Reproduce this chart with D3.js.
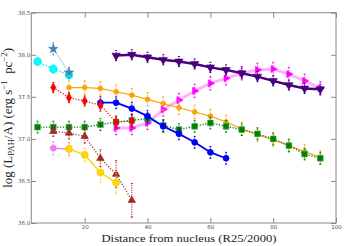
<!DOCTYPE html>
<html>
<head>
<meta charset="utf-8">
<script src="https://cdn.jsdelivr.net/npm/d3@7"></script>
<style>
  body { margin: 0; background: #fff; }
  svg { display: block; }
  .axis text { font-family: 'DejaVu Sans', sans-serif; font-size: 5.5px; fill: #555; }
  .axis path, .axis line { stroke: #888; }
  .title { font-family: 'Liberation Serif', serif; font-size: 11px; fill: #222; }
</style>
</head>
<body>
<svg id="chart" width="351" height="246"></svg>
<script>
'use strict'

// values
const xTicks = [20, 40, 60, 80, 100];
const yTicks = [36.0, 36.5, 37.0, 37.5, 38.0, 38.5];

const distStar = [10, 15];
const lumStar = [38.07, 37.79];
const errStar = [0.07, 0.06];

const distCyan = [5, 10, 15];
const lumCyan = [37.92, 37.83, 37.76];
const errCyan = [0.05, 0.05, 0.05];

const distRed = [10, 15, 20, 25, 30, 35];
const lumRed = [37.61, 37.49, 37.45, 37.40, 37.20, 37.21];
const errRed = [0.06, 0.06, 0.06, 0.07, 0.07, 0.07];

const distOrange = [15, 20, 25, 30, 35, 40, 45, 50, 55, 60, 65, 70, 75, 80, 85, 90, 95];
const lumOrange = [37.61, 37.61, 37.60, 37.56, 37.52, 37.47, 37.42, 37.37, 37.32, 37.27, 37.20, 37.12, 37.05, 36.99, 36.92, 36.85, 36.78];
const errOrange = [0.08, 0.08, 0.08, 0.08, 0.08, 0.08, 0.08, 0.08, 0.08, 0.08, 0.08, 0.08, 0.08, 0.08, 0.08, 0.08, 0.08];

const distBlue = [25, 30, 35, 40, 45, 50, 55, 60, 65];
const lumBlue = [37.43, 37.43, 37.36, 37.27, 37.15, 37.06, 36.96, 36.84, 36.77];
const errBlue = [0.07, 0.07, 0.07, 0.07, 0.07, 0.07, 0.07, 0.07, 0.07];

const distGreen = [5, 10, 15, 20, 25, 30, 35, 40, 45, 50, 55, 60, 65, 70, 75, 80, 85, 90, 95];
const lumGreen = [37.14, 37.14, 37.14, 37.14, 37.17, 37.20, 37.22, 37.24, 37.16, 37.11, 37.15, 37.19, 37.15, 37.11, 37.06, 37.00, 36.92, 36.82, 36.77];
const errGreen = [0.07, 0.07, 0.07, 0.07, 0.07, 0.07, 0.07, 0.07, 0.07, 0.07, 0.07, 0.07, 0.07, 0.07, 0.07, 0.07, 0.07, 0.07, 0.07];

const distBrown = [10, 15, 20, 25, 30, 35];
const lumBrown = [37.09, 37.07, 37.03, 36.77, 36.58, 36.27];
const errBrown = [0.06, 0.07, 0.08, 0.1, 0.16, 0.2];

const distViolet = [10, 15];
const lumViolet = [36.89, 36.88];
const errViolet = [0.08, 0.08];

const distGold = [15, 20, 25, 30];
const lumGold = [36.88, 36.81, 36.60, 36.48];
const errGold = [0.07, 0.08, 0.12, 0.13];

const distMagenta = [30, 35, 40, 45, 50, 55, 60, 65, 70, 75, 80, 85, 90, 95];
const lumMagenta = [37.13, 37.13, 37.19, 37.35, 37.46, 37.57, 37.66, 37.72, 37.78, 37.82, 37.83, 37.77, 37.69, 37.60];
const errMagenta = [0.08, 0.08, 0.08, 0.08, 0.08, 0.08, 0.08, 0.08, 0.08, 0.08, 0.08, 0.08, 0.08, 0.08];

const distIndigo = [30, 35, 40, 45, 50, 55, 60, 65, 70, 75, 80, 85, 90, 95];
const lumIndigo = [37.99, 38.00, 37.97, 37.94, 37.92, 37.89, 37.85, 37.82, 37.78, 37.74, 37.69, 37.64, 37.60, 37.59];
const errIndigo = [0.06, 0.06, 0.06, 0.06, 0.06, 0.06, 0.06, 0.06, 0.06, 0.06, 0.06, 0.06, 0.06, 0.06];

function zipSeries(xs, ys, es) {
	return xs.map(function(d, i) { return { x: d, y: ys[i], e: es[i] }; });
}

// drawing order matters for overlaps
const series = [
	{ data: zipSeries(distMagenta, lumMagenta, errMagenta), line: '#ffb0ff', lw: 3, dash: null, fill: '#ff00ff', edge: '#ff00ff', sym: d3.symbolTriangle, size: 22, rot: 90 },
	{ data: zipSeries(distIndigo, lumIndigo, errIndigo), line: '#4b0082', lw: 2.5, dash: null, fill: '#4b0082', edge: '#3a0066', sym: d3.symbolTriangle, size: 30, rot: 180 },
	{ data: zipSeries(distOrange, lumOrange, errOrange), line: '#ffa500', lw: 1.2, dash: null, fill: '#ffa500', edge: '#e69500', sym: d3.symbolCircle, size: 18, rot: 0 },
	{ data: zipSeries(distGreen, lumGreen, errGreen), line: '#008000', lw: 1.4, dash: '1.2,1.6', fill: '#008000', edge: '#5fb05f', sym: d3.symbolSquare, size: 34, rot: 0 },
	{ data: zipSeries(distBlue, lumBlue, errBlue), line: '#0000ff', lw: 1.8, dash: null, fill: '#0000ff', edge: '#0000dd', sym: d3.symbolCircle, size: 28, rot: 0 },
	{ data: zipSeries(distRed, lumRed, errRed), line: '#ff0000', lw: 1.2, dash: '1.2,1.6', fill: '#ff0000', edge: '#dd0000', sym: d3.symbolDiamond, size: 24, rot: 0 },
	{ data: zipSeries(distCyan, lumCyan, errCyan), line: '#00e5ee', lw: 1.4, dash: '1.2,1.8', fill: '#00ffff', edge: '#00dddd', sym: d3.symbolCircle, size: 46, rot: 0 },
	{ data: zipSeries(distStar, lumStar, errStar), line: '#b0c4de', lw: 1, dash: null, fill: '#4682b4', edge: '#4682b4', sym: d3.symbolStar, size: 28, rot: 0 },
	{ data: zipSeries(distBrown, lumBrown, errBrown), line: '#a52a2a', lw: 1.2, dash: '1.2,1.6', fill: '#a52a2a', edge: '#8b2020', sym: d3.symbolTriangle, size: 24, rot: 0 },
	{ data: zipSeries(distViolet, lumViolet, errViolet), line: '#ee82ee', lw: 1.5, dash: null, fill: '#ee82ee', edge: '#dd70dd', sym: d3.symbolCircle, size: 26, rot: 0 },
	{ data: zipSeries(distGold, lumGold, errGold), line: '#ffd700', lw: 1.5, dash: null, fill: '#ffd700', edge: '#e6c200', sym: d3.symbolCircle, size: 38, rot: 0 }
];

var plotLeft = 31.3, plotTop = 12.7, plotRight = 336, plotBottom = 223;
var width = plotRight - plotLeft, height = plotBottom - plotTop;

var svg = d3.select('#chart');

var g = svg.append('g')
	.attr('transform', 'translate(' + plotLeft + ',' + plotTop + ')');

var x = d3.scaleLinear()
	.domain([3, 100])
	.range([0, width]);

var y = d3.scaleLinear()
	.domain([36, 38.5])
	.range([height, 0]);

// frame
g.append('rect')
	.attr('width', width)
	.attr('height', height)
	.attr('fill', 'none')
	.attr('stroke', '#888')
	.attr('stroke-width', 1);

g.append('g')
	.attr('class', 'axis')
	.attr('transform', 'translate(0,' + height + ')')
	.call(d3.axisBottom(x).tickValues(xTicks).tickSize(-5).tickPadding(2.5).tickFormat(d3.format('d')));

g.append('g')
	.attr('class', 'axis')
	.call(d3.axisTop(x).tickValues(xTicks).tickSize(-5).tickFormat(''));

g.append('g')
	.attr('class', 'axis')
	.call(d3.axisLeft(y).tickValues(yTicks).tickSize(-5).tickPadding(1).tickFormat(d3.format('.1f')));

g.append('g')
	.attr('class', 'axis')
	.attr('transform', 'translate(' + width + ',0)')
	.call(d3.axisRight(y).tickValues(yTicks).tickSize(-5).tickFormat(''));

g.selectAll('.axis .domain').remove();

var line = d3.line()
	.x(function(d) { return x(d.x); })
	.y(function(d) { return y(d.y); });

series.forEach(function(s) {
	var sg = g.append('g');

	sg.append('path')
		.datum(s.data)
		.attr('d', line)
		.attr('fill', 'none')
		.attr('stroke', s.line)
		.attr('stroke-width', s.lw)
		.attr('stroke-linejoin', 'round')
		.attr('stroke-dasharray', s.dash);

	// error bars: dotted with small caps
	var eb = sg.selectAll('.err')
		.data(s.data)
		.enter()
		.append('g');

	eb.append('line')
		.attr('x1', function(d) { return x(d.x); })
		.attr('x2', function(d) { return x(d.x); })
		.attr('y1', function(d) { return y(d.y - d.e); })
		.attr('y2', function(d) { return y(d.y + d.e); })
		.attr('stroke', s.fill)
		.attr('stroke-width', 1)
		.attr('stroke-dasharray', '1.2,1.2');

	eb.selectAll('.cap')
		.data(function(d) { return [d.y - d.e, d.y + d.e].map(function(v) { return { x: d.x, v: v }; }); })
		.enter()
		.append('line')
		.attr('x1', function(d) { return x(d.x) - 1; })
		.attr('x2', function(d) { return x(d.x) + 1; })
		.attr('y1', function(d) { return y(d.v); })
		.attr('y2', function(d) { return y(d.v); })
		.attr('stroke', s.fill)
		.attr('stroke-width', 1);

	sg.selectAll('.pt')
		.data(s.data)
		.enter()
		.append('path')
		.attr('d', d3.symbol().type(s.sym).size(s.size))
		.attr('transform', function(d) { return 'translate(' + x(d.x) + ',' + y(d.y) + ') rotate(' + s.rot + ')'; })
		.attr('fill', s.fill)
		.attr('stroke', s.edge)
		.attr('stroke-width', 0.6);
});

// axis titles
svg.append('text')
	.attr('class', 'title')
	.attr('x', 189)
	.attr('y', 242)
	.attr('text-anchor', 'middle')
	.attr('textLength', 175)
	.attr('lengthAdjust', 'spacingAndGlyphs')
	.text('Distance from nucleus (R25/2000)');

var yt = svg.append('text')
	.attr('class', 'title')
	.attr('transform', 'translate(12,' + (plotTop + height / 2) + ') rotate(-90)')
	.attr('text-anchor', 'middle');

yt.append('tspan').text('log (L');
yt.append('tspan').attr('font-size', '7.5px').attr('dy', 2).text('PAH');
yt.append('tspan').attr('dy', -2).text('/A) (erg s');
yt.append('tspan').attr('font-size', '7.5px').attr('dy', -4).text('\u22121');
yt.append('tspan').attr('dy', 4).text('\u00a0\u00a0pc');
yt.append('tspan').attr('font-size', '7.5px').attr('dy', -4).text('\u22122');
yt.append('tspan').attr('dy', 4).text(')');

// stretch the rotated title to the span it has in the picture
var ytLen = yt.node().getComputedTextLength();
if (ytLen > 0) {
	var k = 140 / ytLen;
	yt.attr('transform', 'translate(12,' + (plotTop + height / 2) + ') rotate(-90) scale(' + k + ')');
}
</script>
</body>
</html>
